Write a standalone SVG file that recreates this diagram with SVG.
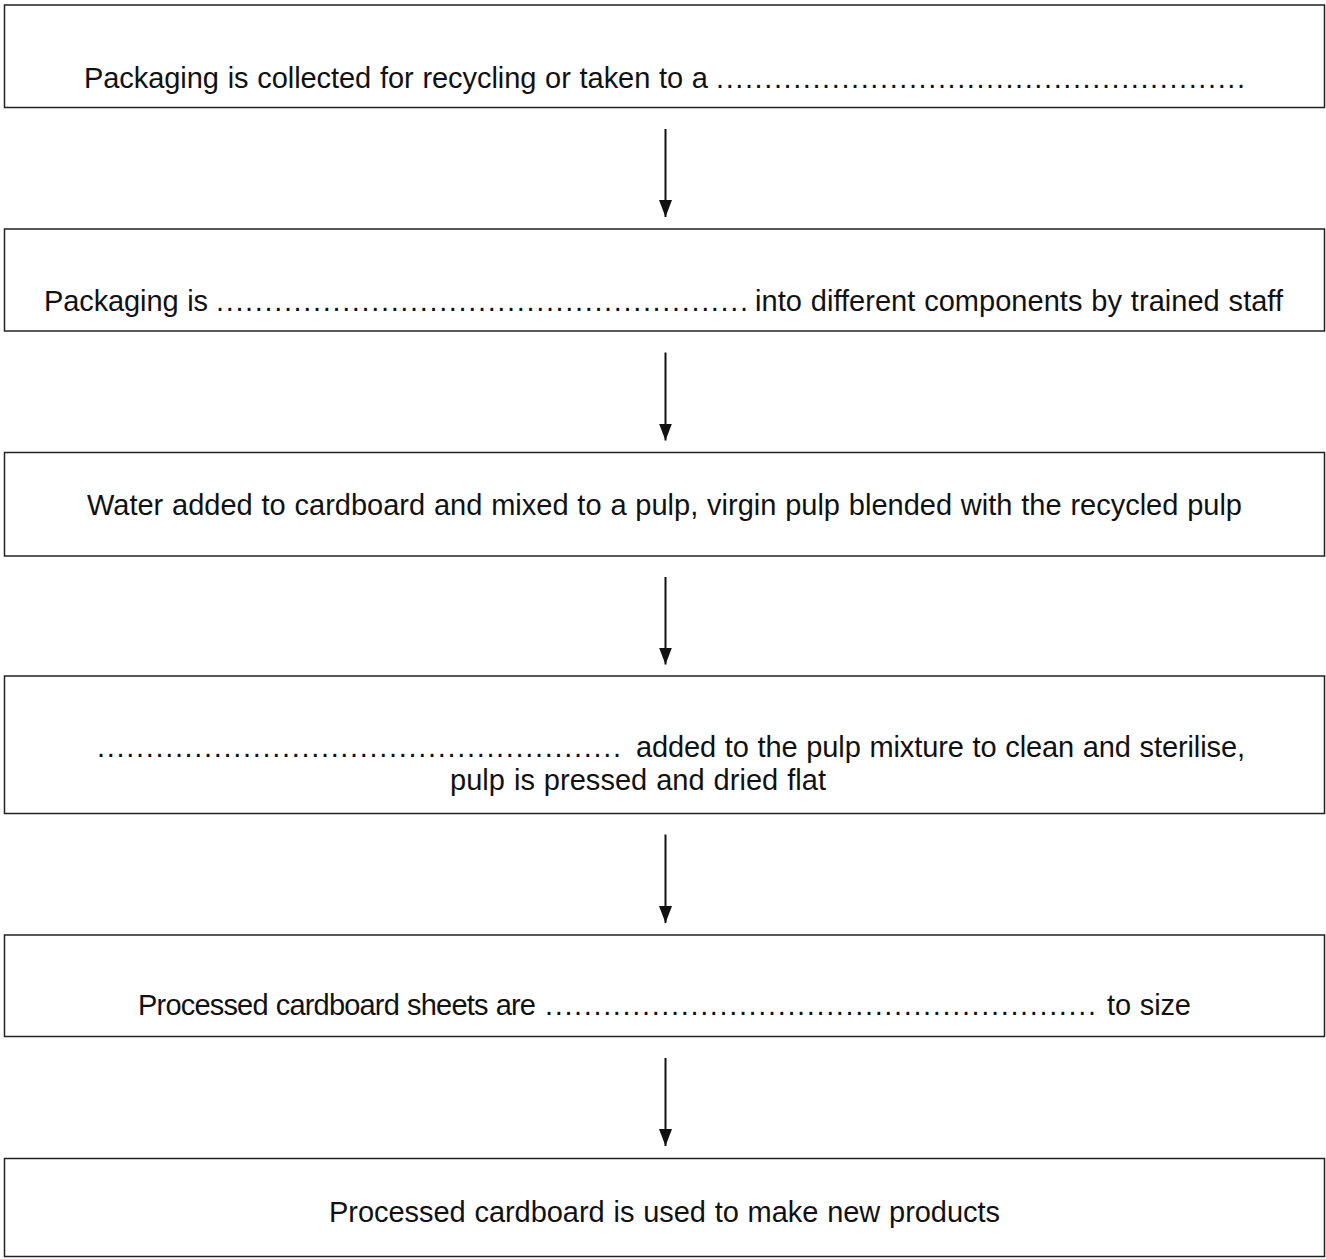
<svg xmlns="http://www.w3.org/2000/svg" width="1326" height="1259" viewBox="0 0 1326 1259">
<style>
.box{fill:#fff;stroke:#222;stroke-width:1.5}
.t{font-family:"Liberation Sans",Arial,Helvetica,sans-serif;font-size:29px;fill:#111;word-spacing:0.8px}
.c{stroke:#111;stroke-width:2;fill:none}
</style>
<defs>
<marker id="ah" markerUnits="userSpaceOnUse" markerWidth="18" markerHeight="14" refX="17" refY="6.5" orient="auto">
<path d="M0,0 L17,6.5 L0,13 z" fill="#111"/>
</marker>
</defs>
<rect width="1326" height="1259" fill="#fff"/>
<g id="connectors">
<line class="c" x1="665.5" y1="129" x2="665.5" y2="217" marker-end="url(#ah)"/>
<line class="c" x1="665.5" y1="352.5" x2="665.5" y2="440.5" marker-end="url(#ah)"/>
<line class="c" x1="665.5" y1="577" x2="665.5" y2="664.5" marker-end="url(#ah)"/>
<line class="c" x1="665.5" y1="834.5" x2="665.5" y2="923" marker-end="url(#ah)"/>
<line class="c" x1="665.5" y1="1058" x2="665.5" y2="1146" marker-end="url(#ah)"/>
</g>
<g id="node1">
<rect class="box" x="4.5" y="5" width="1320" height="102.5"/>
<text class="t" x="84" y="87.5" textLength="624" lengthAdjust="spacing">Packaging is collected for recycling or taken to a</text>
<text class="t" x="716" y="87.5" textLength="529" lengthAdjust="spacing">.......................................................</text>
</g>
<g id="node2">
<rect class="box" x="4.5" y="229" width="1320" height="102"/>
<text class="t" x="44" y="311" textLength="164" lengthAdjust="spacing">Packaging is</text>
<text class="t" x="216" y="311" textLength="532" lengthAdjust="spacing">.......................................................</text>
<text class="t" x="755" y="311" textLength="528" lengthAdjust="spacing">into different components by trained staff</text>
</g>
<g id="node3">
<rect class="box" x="4.5" y="452.5" width="1320" height="103.5"/>
<text class="t" x="87" y="515" textLength="1155" lengthAdjust="spacing">Water added to cardboard and mixed to a pulp, virgin pulp blended with the recycled pulp</text>
</g>
<g id="node4">
<rect class="box" x="4.5" y="676" width="1320" height="137.5"/>
<text class="t" x="97" y="757" textLength="524" lengthAdjust="spacing">......................................................</text>
<text class="t" x="636" y="757" textLength="609" lengthAdjust="spacing">added to the pulp mixture to clean and sterilise,</text>
<text class="t" x="450" y="790" textLength="376" lengthAdjust="spacing">pulp is pressed and dried flat</text>
</g>
<g id="node5">
<rect class="box" x="4.5" y="935" width="1320" height="101.5"/>
<text class="t" x="138" y="1015" textLength="398" lengthAdjust="spacing">Processed cardboard sheets are</text>
<text class="t" x="545" y="1015" textLength="551" lengthAdjust="spacing">.........................................................</text>
<text class="t" x="1107" y="1015" textLength="84" lengthAdjust="spacing">to size</text>
</g>
<g id="node6">
<rect class="box" x="4.5" y="1158.5" width="1320" height="98"/>
<text class="t" x="329" y="1222" textLength="671" lengthAdjust="spacing">Processed cardboard is used to make new products</text>
</g>
</svg>
